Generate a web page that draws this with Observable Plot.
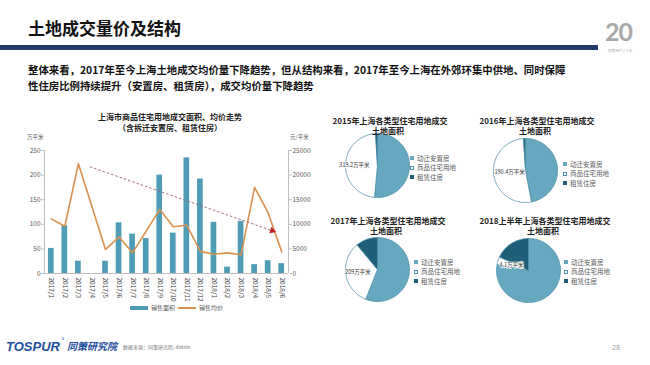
<!DOCTYPE html>
<html><head><meta charset="utf-8">
<script src="https://cdn.jsdelivr.net/npm/d3@7"></script>
<script src="https://cdn.jsdelivr.net/npm/@observablehq/plot@0.6"></script>
<style>
body{margin:0;background:#fff;}
#slide{position:relative;width:650px;height:365px;overflow:hidden;font-family:"Noto Sans CJK SC","Noto Sans",sans-serif;background:#fff;color:#222;}
.t{position:absolute;white-space:nowrap;}
.svgbox{position:absolute;}
</style></head><body><div id="slide"></div>
<script>
// ---------- data ----------
const headline = "土地成交量价及结构";
const bodyLines = [
  "整体来看，2017年至今上海土地成交均价量下降趋势，但从结构来看，2017年至今上海在外郊环集中供地、同时保障",
  "性住房比例持续提升（安置房、租赁房），成交均价量下降趋势"
];
const chartTitle = ["上海市商品住宅用地成交面积、均价走势", "（含拆迁安置房、租赁住房）"];
const months = ["2017/1","2017/2","2017/3","2017/4","2017/5","2017/6","2017/7","2017/8","2017/9","2017/10","2017/11","2017/12","2018/1","2018/2","2018/3","2018/4","2018/5","2018/6"];
const salesArea = [51,97,25,0,25,103,80,71,200,82,235,192,104,13,106,18,26,20];
const avgPrice = [11100,9600,22300,null,4900,7400,4200,8600,13000,9500,9800,4500,3900,4200,3800,17500,12300,4400];
const leftTicks = [0,50,100,150,200,250];
const rightTicks = [0,5000,10000,15000,20000,25000];
const trendFrom = {month: 2.84, price: 21700};
const trendTo = {month: 16.3, price: 8700};
const seriesNames = ["销售面积","销售均价"];
const unitLeft = "万平米", unitRight = "元/平米";

const pieCategories = ["动迁安置房","商品住宅用地","租赁住房"];
const pieTitles = [
  ["2015年上海各类型住宅用地成交","土地面积"],
  ["2016年上海各类型住宅用地成交","土地面积"],
  ["2017年上海各类型住宅用地成交","土地面积"],
  ["2018上半年上海各类型住宅用地成交","土地面积"]
];
const pieShares = [
  [51.5,47.5,1.0],
  [47.0,52.0,1.0],
  [56.0,33.0,11.0],
  [78.0,4.0,18.0]
];
const pieLabels = ["319.2万平米","190.4万平米","209万平米","4.1万平米"];

// ---------- styling / layout ----------
const barColor = "#4f9cb6", lineColor = "#d89150";
const pieFill = ["#66a8bf","#ffffff","#1f5f7a"];
const pieStroke = "#4f8fa8";
const axisText = "#595959";
const slide = document.getElementById("slide");

function addText(txt, x, yc, size, opts = {}) {
  const d = document.createElement("div");
  d.className = "t";
  d.textContent = txt;
  d.style.left = x + "px";
  d.style.top = (yc - size / 2) + "px";
  d.style.fontSize = size + "px";
  d.style.lineHeight = size + "px";
  if (opts.center) d.style.transform = "translateX(-50%)";
  if (opts.bold) d.style.fontWeight = "bold";
  if (opts.color) d.style.color = opts.color;
  if (opts.italic) d.style.fontStyle = "italic";
  if (opts.family) d.style.fontFamily = opts.family;
  if (opts.spacing) d.style.letterSpacing = opts.spacing;
  slide.appendChild(d);
  return d;
}
function addBox(x, y, w, h, bg, border) {
  const d = document.createElement("div");
  d.style.position = "absolute";
  d.style.left = x + "px"; d.style.top = y + "px";
  d.style.width = w + "px"; d.style.height = h + "px";
  d.style.background = bg;
  if (border) { d.style.border = border; d.style.boxSizing = "border-box"; }
  slide.appendChild(d);
  return d;
}
function place(svg, x, y) {
  const w = document.createElement("div");
  w.className = "svgbox";
  w.style.left = x + "px"; w.style.top = y + "px";
  w.appendChild(svg);
  slide.appendChild(w);
}

// header
addText(headline, 28, 27, 17, {bold: true, color: "#111"});
addBox(0, 45, 598, 4.5, "#1f3a6b");
addText(bodyLines[0], 28, 70, 10.4, {bold: true, color: "#111"});
addText(bodyLines[1], 28, 86, 10.4, {bold: true, color: "#111"});
// logo
addText("20", 605, 31, 25, {bold: true, color: "#a8a8a8", family: "Lato, sans-serif", spacing: "-1px"});
addText("同策地产二十年", 608, 51, 3.5, {color: "#aaa"});

// ---------- main chart ----------
const barData = months.map((m, i) => ({i, v: salesArea[i]}));
const lineData = months.map((m, i) => ({i, v: avgPrice[i]})).filter(d => d.v != null);
const scaleK = rightTicks[rightTicks.length - 1] / leftTicks[leftTicks.length - 1];

const main = Plot.plot({
  width: 330, height: 170,
  marginLeft: 44, marginRight: 42, marginTop: 10, marginBottom: 37,
  x: {domain: [-0.5, months.length - 0.5]},
  y: {domain: [0, leftTicks[leftTicks.length - 1]]},
  style: {fontFamily: "'Noto Sans CJK SC', sans-serif", fontSize: "6.5px", color: axisText, background: "transparent"},
  marks: [
    Plot.rect(barData, {x1: d => d.i - 0.21, x2: d => d.i + 0.21, y1: 0, y2: "v", fill: barColor}),
    Plot.ruleY([0], {stroke: "#bfbfbf"}),
    Plot.ruleX([-0.5, months.length - 0.5], {stroke: "#bfbfbf"}),
    Plot.line(lineData, {x: "i", y: d => d.v / scaleK, stroke: lineColor, strokeWidth: 1.6}),
    Plot.link([{a: trendFrom, b: trendTo}], {
      x1: d => d.a.month, y1: d => d.a.price / scaleK,
      x2: d => d.b.month, y2: d => d.b.price / scaleK,
      stroke: "#9a5a72", strokeWidth: 0.9, strokeDasharray: "2.5,2"
    }),
    Plot.dot([trendTo], {x: "month", y: d => d.price / scaleK, symbol: "triangle", r: 2.6, fill: "#c0202a", stroke: "none", rotate: 109}),
    Plot.axisY({ticks: leftTicks, tickSize: 3, tickPadding: 1, label: null, stroke: "#bfbfbf"}),
    Plot.axisY({anchor: "right", ticks: rightTicks.map(d => d / scaleK), tickFormat: d => String(Math.round(d * scaleK)), tickSize: 3, tickPadding: 1, label: null, stroke: "#bfbfbf"}),
    Plot.axisX({ticks: months.map((m, i) => i), tickFormat: i => months[i], tickRotate: 90, tickSize: 0, tickPadding: 4, label: null, fill: "#404040"})
  ]
});
place(main, 0, 140);

addText(chartTitle[0], 170, 117, 8, {center: true, bold: true, color: "#222"});
addText(chartTitle[1], 170, 128, 8, {center: true, bold: true, color: "#222"});
addText(unitLeft, 27, 138, 5.5, {color: axisText});
addText(unitRight, 290, 138, 5.5, {color: axisText});

// main legend
addBox(130, 306, 18, 4, barColor);
addText(seriesNames[0], 151, 308, 6, {color: axisText});
addBox(178, 307.3, 18, 1.6, lineColor);
addText(seriesNames[1], 199, 308, 6, {color: axisText});

// ---------- pies ----------
const pieCenters = [[377, 165], [525, 170], [377, 269], [528, 270]];
const pieR = 32;
const labelFactor = [0.72, 0.5, 0.62, 0.56];
const legendPos = [[410, 158], [563, 164], [414, 262], [564, 262]];
const titleCenters = [[390, 121], [537, 121], [388, 221], [545, 221]];

function piePlot(values, label, lf) {
  const arcs = d3.pie().sort(null)(values);
  const marks = arcs.map((a, k) => {
    const pts = [{x: 0, y: 0}];
    const n = Math.max(2, Math.ceil((a.endAngle - a.startAngle) / 0.03));
    for (let j = 0; j <= n; j++) {
      const t = a.startAngle + (a.endAngle - a.startAngle) * j / n;
      pts.push({x: Math.sin(t), y: Math.cos(t)});
    }
    pts.push({x: 0, y: 0});
    return Plot.line(pts, {x: "x", y: "y", fill: pieFill[k], stroke: pieStroke, strokeWidth: 0.8, strokeLinejoin: "round"});
  });
  const w = arcs[1];
  const mid = (w.startAngle + w.endAngle) / 2;
  marks.push(Plot.text([label], {
    x: () => Math.sin(mid) * lf, y: () => Math.cos(mid) * lf, text: d => d,
    fontSize: 5.5, fill: "#333", stroke: "white", strokeWidth: 1.5, paintOrder: "stroke"
  }));
  const size = 2 * pieR + 4;
  return Plot.plot({
    width: size, height: size, margin: 2,
    x: {domain: [-1, 1], axis: null}, y: {domain: [-1, 1], axis: null},
    style: {fontFamily: "'Noto Sans CJK SC', sans-serif", background: "transparent", overflow: "visible"},
    marks
  });
}

pieShares.forEach((vals, p) => {
  const svg = piePlot(vals, pieLabels[p], labelFactor[p]);
  place(svg, pieCenters[p][0] - pieR - 2, pieCenters[p][1] - pieR - 2);
  addText(pieTitles[p][0], titleCenters[p][0], titleCenters[p][1], 8, {center: true, bold: true, color: "#222"});
  addText(pieTitles[p][1], titleCenters[p][0] - 2, titleCenters[p][1] + 10, 8, {center: true, bold: true, color: "#222"});
  pieCategories.forEach((c, k) => {
    const [lx, ly] = legendPos[p];
    addBox(lx, ly + k * 9.5 - 2, 4, 4, pieFill[k], k === 1 ? "0.7px solid " + pieStroke : null);
    addText(c, lx + 7, ly + k * 9.5, 6.5, {color: axisText});
  });
});

// ---------- footer ----------
addText("TOSPUR", 6, 346, 13, {bold: true, italic: true, color: "#1d4f9c", family: "Arial, 'Liberation Sans', sans-serif"});
addText("®", 62, 339, 4, {color: "#1d4f9c"});
addText("同策研究院", 67, 346, 10, {bold: true, italic: true, color: "#1d4f9c"});
addText("数据来源：同策研究院, dataln", 123, 346, 5, {color: "#777"});
addText("28", 612, 347, 7, {color: "#999"});
</script></body></html>
